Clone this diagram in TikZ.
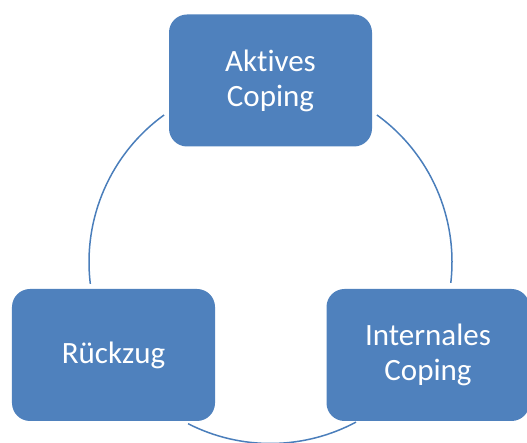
\documentclass[tikz,border=0pt]{standalone}
\usepackage{fontspec}
\setmainfont[Ligatures={NoCommon}]{Carlito}
\definecolor{boxblue}{HTML}{4F81BD}
\definecolor{ringblue}{HTML}{4A7EBB}

\begin{document}
\begin{tikzpicture}[x=1bp, y=1bp]
 \tikzstyle{coping}=[rectangle, rounded corners=18bp, fill=boxblue, text=white, align=center,
   minimum width=203bp, minimum height=132bp, inner sep=0pt,
   font=\fontsize{31bp}{35bp}\selectfont]
 \tikzstyle{ring}=[ringblue, line width=1.5bp]
 \useasboundingbox (0, 0) rectangle (527, 443);
 %
 \coordinate (ctr) at (270.5, 181);
 \draw[ring] ([shift={(125.9:181.5)}]ctr) arc[start angle=125.9, end angle=186.9, radius=181.5];
 \draw[ring] ([shift={(54.1:181.5)}]ctr) arc[start angle=54.1, end angle=-6.6, radius=181.5];
 \draw[ring] ([shift={(243:181.5)}]ctr) arc[start angle=243, end angle=298.1, radius=181.5];
 %
 \node[coping] (aktiv) at (270.5, 362.5) {Aktives\\Coping};
 \node[coping] (rueck) at (113.5, 88) {Rückzug};
 \node[coping] (intern) at (428, 88) {Internales\\Coping};
\end{tikzpicture}
\end{document}
